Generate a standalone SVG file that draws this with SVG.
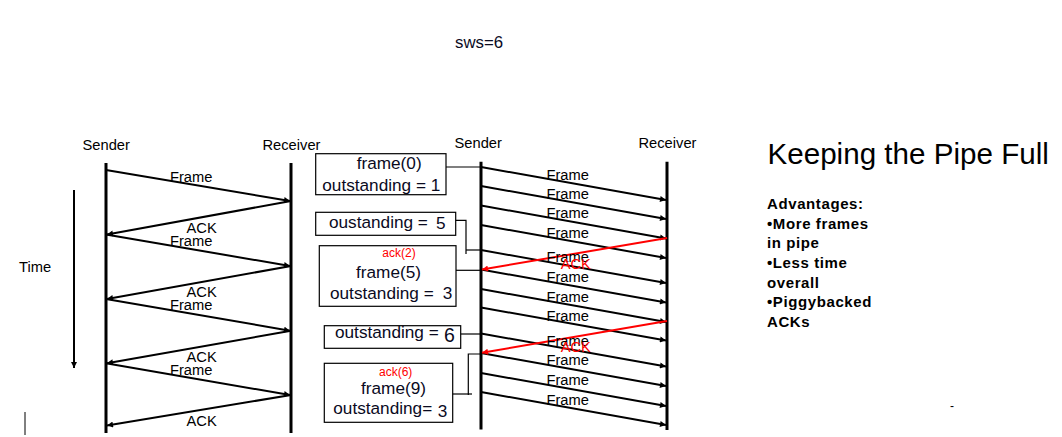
<svg xmlns="http://www.w3.org/2000/svg" width="1062" height="437" viewBox="0 0 1062 437">
<style>
text{font-family:"Liberation Sans",Arial,sans-serif;fill:#000}
.lbl{font-size:14.7px}
.box{fill:#fff;stroke:#000;stroke-width:1.2}
.bt{font-size:17.2px;fill:#0a0a1e}
.ack{font-size:12px;fill:#ff0000}
.life{stroke:#000;stroke-width:3}
.msg{stroke:#000;stroke-width:2;fill:none;marker-end:url(#ah)}
.red{stroke:#ff0000;stroke-width:2;fill:none;marker-end:url(#ahr)}
.rl{font-size:14.7px;fill:#ff0000}
.conn{stroke:#000;stroke-width:1.2;fill:none}
.adv{font-size:15px;font-weight:bold;letter-spacing:0.6px}
</style>
<defs>
<marker id="ah" markerUnits="userSpaceOnUse" markerWidth="8" markerHeight="6" viewBox="0 0 10 10" refX="10" refY="5" orient="auto"><path d="M0,0 L10,5 L0,10 z" fill="#000"/></marker>
<marker id="ahr" markerUnits="userSpaceOnUse" markerWidth="8" markerHeight="6" viewBox="0 0 10 10" refX="10" refY="5" orient="auto"><path d="M0,0 L10,5 L0,10 z" fill="#ff0000"/></marker>
</defs>
<rect width="1062" height="437" fill="#fff"/>

<text x="455" y="47.7" style="font-size:16.8px;fill:#0a0a1e">sws=6</text>

<g id="left-sender">
<text class="lbl" x="82.5" y="150">Sender</text>
<line class="life" x1="106" y1="163" x2="106" y2="433"/>
</g>
<g id="left-receiver">
<text class="lbl" x="262.5" y="150">Receiver</text>
<line class="life" x1="291" y1="163" x2="291" y2="433"/>
</g>
<g id="time-axis">
<text class="lbl" x="19" y="271.5">Time</text>
<line x1="74" y1="190" x2="74" y2="368" stroke="#000" stroke-width="2" marker-end="url(#ah)"/>
</g>

<g id="right-sender">
<text class="lbl" x="454.5" y="148.3">Sender</text>
<line class="life" x1="481" y1="161.7" x2="481" y2="429.5"/>
</g>
<g id="right-receiver">
<text class="lbl" x="638.5" y="148.3">Receiver</text>
<line class="life" x1="667" y1="161.7" x2="667" y2="430"/>
</g>

<g id="box-frame0">
<rect class="box" x="315.7" y="153.7" width="130.3" height="41"/>
<text class="bt" x="356.7" y="168.7">frame(0)</text>
<text class="bt" x="322.3" y="190.7">outstanding = 1</text>
</g>
<g id="box-out5">
<rect class="box" x="315.7" y="212.3" width="140" height="23"/>
<text class="bt" x="329" y="227.5">oustanding =</text>
<text class="bt" x="436" y="229">5</text>
</g>
<g id="box-frame5">
<rect class="box" x="319.3" y="245.7" width="136.7" height="60.6"/>
<text class="ack" x="382.3" y="257.3">ack(2)</text>
<text class="bt" x="356" y="278">frame(5)</text>
<text class="bt" x="330" y="298.7">outstanding =</text>
<text class="bt" x="442.7" y="298.7">3</text>
</g>
<g id="box-out6">
<rect class="box" x="324.3" y="325.7" width="136.4" height="22.6"/>
<text class="bt" x="335" y="337.7">outstanding =</text>
<text class="bt" x="444" y="341.5" style="font-size:19.5px">6</text>
</g>
<g id="box-frame9">
<rect class="box" x="324.3" y="363.3" width="128.4" height="59"/>
<text class="ack" x="379" y="376">ack(6)</text>
<text class="bt" x="361" y="394.3">frame(9)</text>
<text class="bt" x="333.3" y="414.3">outstanding=</text>
<text class="bt" x="437.7" y="416.7">3</text>
</g>

<g id="title">
<text x="767.5" y="164.3" style="font-size:29.6px">Keeping the Pipe Full</text>
</g>
<g id="advantages">
<text class="adv" x="767" y="209">Advantages:</text>
<text class="adv" x="767" y="228.7">•More frames</text>
<text class="adv" x="767" y="248.4">in pipe</text>
<text class="adv" x="767" y="268">•Less time</text>
<text class="adv" x="767" y="287.7">overall</text>
<text class="adv" x="767" y="307.4">•Piggybacked</text>
<text class="adv" x="767" y="327">ACKs</text>
</g>

<g id="connectors">
<!-- left stop-and-wait -->
<line class="msg" x1="106" y1="170" x2="290" y2="201"/>
<line class="msg" x1="291" y1="201" x2="107" y2="234.5"/>
<line class="msg" x1="106" y1="234.5" x2="290" y2="266"/>
<line class="msg" x1="291" y1="266" x2="107" y2="299"/>
<line class="msg" x1="106" y1="299" x2="290" y2="330.7"/>
<line class="msg" x1="291" y1="330.7" x2="107" y2="363.3"/>
<line class="msg" x1="106" y1="363.3" x2="290" y2="395"/>
<line class="msg" x1="291" y1="395" x2="107" y2="425.5"/>
<!-- right sliding window frames -->
<line class="msg" x1="481" y1="167" x2="666" y2="200"/>
<line class="msg" x1="481" y1="186" x2="666" y2="219"/>
<line class="msg" x1="481" y1="205.5" x2="666" y2="238.5"/>
<line class="msg" x1="481" y1="225" x2="666" y2="258"/>
<line class="msg" x1="481" y1="250" x2="666" y2="283"/>
<line class="msg" x1="481" y1="269.5" x2="666" y2="302.5"/>
<line class="msg" x1="481" y1="289" x2="666" y2="322"/>
<line class="msg" x1="481" y1="307.5" x2="666" y2="340.5"/>
<line class="msg" x1="481" y1="333.5" x2="666" y2="366.5"/>
<line class="msg" x1="481" y1="353" x2="666" y2="386"/>
<line class="msg" x1="481" y1="373" x2="666" y2="406"/>
<line class="msg" x1="481" y1="392" x2="666" y2="425"/>
<!-- red ACKs -->
<line class="red" x1="667" y1="238" x2="482" y2="269.5"/>
<line class="red" x1="667" y1="321" x2="482" y2="352.7"/>
<!-- box leaders -->
<line class="conn" x1="446" y1="167" x2="481" y2="167"/>
<polyline class="conn" points="455.7,220.3 466,220.3 466,254"/>
<line class="conn" x1="466" y1="250" x2="481" y2="250"/>
<line class="conn" x1="456" y1="270.3" x2="481" y2="270.3"/>
<line class="conn" x1="460.7" y1="334" x2="481" y2="334"/>
<line class="conn" x1="452.7" y1="394" x2="472" y2="394"/>
<polyline class="conn" points="468.3,395 468.3,354 481,354"/>
</g>

<g id="labels">
<text class="lbl" x="170" y="181.5">Frame</text>
<text class="lbl" x="186.5" y="232.5">ACK</text>
<text class="lbl" x="170" y="245.5">Frame</text>
<text class="lbl" x="186.5" y="297">ACK</text>
<text class="lbl" x="170" y="310">Frame</text>
<text class="lbl" x="186.5" y="361.5">ACK</text>
<text class="lbl" x="170" y="374.5">Frame</text>
<text class="lbl" x="186.5" y="426">ACK</text>

<text class="lbl" x="546.5" y="179.5">Frame</text>
<text class="lbl" x="546.5" y="198.5">Frame</text>
<text class="lbl" x="546.5" y="218">Frame</text>
<text class="lbl" x="546.5" y="237.5">Frame</text>
<text class="lbl" x="546.5" y="262">Frame</text>
<text class="lbl" x="546.5" y="282">Frame</text>
<text class="lbl" x="546.5" y="301.5">Frame</text>
<text class="lbl" x="546.5" y="320.5">Frame</text>
<text class="lbl" x="546.5" y="345.5">Frame</text>
<text class="lbl" x="546.5" y="365">Frame</text>
<text class="lbl" x="546.5" y="384.5">Frame</text>
<text class="lbl" x="546.5" y="404.5">Frame</text>

<text class="rl" x="560.7" y="269">ACK</text>
<text class="rl" x="560.7" y="352.3">ACK</text>
</g>

<line x1="25" y1="412" x2="25" y2="435" stroke="#000" stroke-width="1"/>
<text x="950" y="409.5" style="font-size:12px">-</text>
</svg>
